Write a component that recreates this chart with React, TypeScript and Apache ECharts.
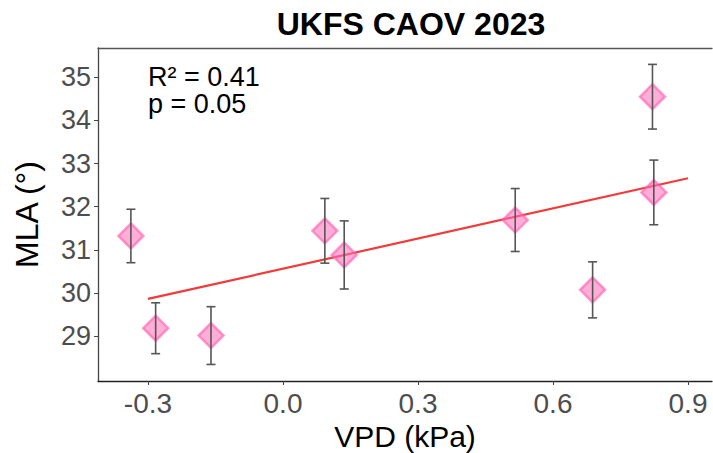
import React, { useEffect, useRef } from "react";
import * as echarts from "echarts";

const vpd = [-0.338, -0.283, -0.16, 0.093, 0.136, 0.516, 0.688, 0.821, 0.824];
const mla = [31.32, 29.18, 29.01, 31.44, 30.88, 31.69, 30.07, 34.55, 32.33];
const se = [0.62, 0.59, 0.67, 0.75, 0.79, 0.73, 0.65, 0.75, 0.75];
const fitX = [-0.3, 0.9];
const fitY = [29.86, 32.66];
const xTicks = [-0.3, 0, 0.3, 0.6, 0.9];
const yTicks = [29, 30, 31, 32, 33, 34, 35];
const title = "UKFS CAOV 2023";
const statsText = ["R² = 0.41", "p = 0.05"];

export default function App() {
  const ref = useRef<HTMLDivElement>(null);
  useEffect(() => {
    if (!ref.current) return;
    const chart = echarts.init(ref.current, undefined, { renderer: "svg" });
    const font = "'Liberation Sans', Arial, sans-serif";
    const points = vpd.map((x, i) => [x, mla[i]]);
    const bars = vpd.map((x, i) => [x, mla[i] - se[i], mla[i] + se[i]]);
    chart.setOption({
      animation: false,
      textStyle: { fontFamily: font },
      title: {
        text: title,
        left: 406,
        textAlign: "center",
        top: 3,
        textStyle: { fontSize: 32, fontWeight: "bold", color: "#000", fontFamily: font },
      },
      grid: { left: 98, top: 48, right: 1, bottom: 72, outerBoundsMode: "none", containLabel: false },
      xAxis: [
        {
          type: "value",
          min: -0.4111,
          max: 0.9533,
          name: "VPD (kPa)",
          nameLocation: "middle",
          nameGap: 40,
          nameMoveOverlap: false,
          nameTextStyle: { fontSize: 30, color: "#000", fontFamily: font },
          axisLine: { show: true, onZero: false, lineStyle: { color: "#222", width: 1.3 } },
          axisTick: { show: true, length: 4, lineStyle: { color: "#444" }, customValues: xTicks },
          axisLabel: {
            fontSize: 28,
            color: "#4D4D4D",
            margin: 8,
            customValues: xTicks,
            formatter: (v: number) => v.toFixed(1),
          },
          splitLine: { show: false },
        },
        {
          type: "value",
          position: "top",
          min: -0.4111,
          max: 0.9533,
          axisLine: { show: true, onZero: false, lineStyle: { color: "#555", width: 1.3 } },
          axisTick: { show: false },
          axisLabel: { show: false },
          splitLine: { show: false },
        },
      ],
      yAxis: {
        type: "value",
        min: 27.956,
        max: 35.68,
        name: "MLA (°)",
        nameLocation: "middle",
        nameGap: 55,
        nameMoveOverlap: false,
        nameTextStyle: { fontSize: 32, color: "#000", fontFamily: font },
        axisLine: { show: true, onZero: false, lineStyle: { color: "#444", width: 1.3 } },
        axisTick: { show: true, length: 4, lineStyle: { color: "#444" }, customValues: yTicks },
        axisLabel: { fontSize: 27, color: "#4D4D4D", margin: 7, customValues: yTicks },
        splitLine: { show: false },
      },
      graphic: [
        {
          type: "text",
          left: 148,
          top: 63,
          style: {
            text: statsText.join("\n"),
            font: `27px ${font}`,
            lineHeight: 27,
            fill: "#000",
          },
        },
      ],
      series: [
        {
          type: "line",
          data: fitX.map((x, i) => [x, fitY[i]]),
          showSymbol: false,
          symbol: "none",
          lineStyle: { color: "#F23A3A", width: 2.2 },
          z: 2,
        },
        {
          type: "scatter",
          data: points,
          symbol: "diamond",
          symbolSize: 25,
          itemStyle: {
            color: "rgba(255,110,185,0.7)",
            borderColor: "rgba(255,90,175,0.75)",
            borderWidth: 2.5,
          },
          z: 3,
        },
        {
          type: "custom",
          data: bars,
          z: 4,
          renderItem: (params: any, api: any) => {
            const x = api.value(0);
            const lo = api.coord([x, api.value(1)]);
            const hi = api.coord([x, api.value(2)]);
            const cw = 4.5;
            const st = { stroke: "#555", lineWidth: 1.6 };
            return {
              type: "group",
              children: [
                { type: "line", shape: { x1: lo[0], y1: lo[1], x2: hi[0], y2: hi[1] }, style: st },
                { type: "line", shape: { x1: lo[0] - cw, y1: lo[1], x2: lo[0] + cw, y2: lo[1] }, style: st },
                { type: "line", shape: { x1: hi[0] - cw, y1: hi[1], x2: hi[0] + cw, y2: hi[1] }, style: st },
              ],
            };
          },
        },
      ],
    });
    return () => chart.dispose();
  }, []);
  return (
    <div
      ref={ref}
      style={{ position: "fixed", left: 0, top: 0, width: 713, height: 453, background: "#fff" }}
    />
  );
}
